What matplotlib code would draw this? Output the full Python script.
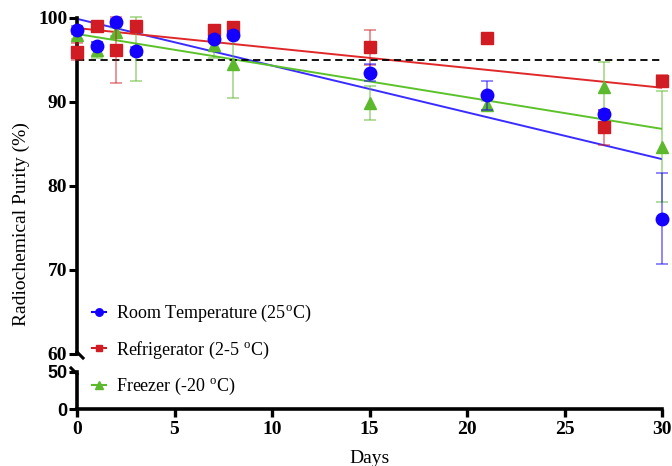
import numpy as np
import matplotlib
matplotlib.use("Agg")
import matplotlib.pyplot as plt
from matplotlib.lines import Line2D

# days sampled
days = [0, 1, 2, 3, 7, 8, 15, 21, 27, 30]

# mean radiochemical purity (%) and error bars
room = [98.6, 96.7, 99.5, 96.1, 97.5, 98.0, 93.5, 90.8, 88.6, 76.1]
room_err = [0.5, 0.4, 0.4, 0.4, 0.4, 0.4, 1.0, 1.7, 0.4, 5.4]
fridge = [96.0, 99.0, 96.2, 99.0, 98.6, 98.9, 96.5, 97.6, 87.0, 92.5]
fridge_err = [1.0, 0.3, 3.9, 0.3, 0.3, 0.3, 2.1, 0.0, 2.1, 0.7]
freezer = [98.0, 96.2, 98.3, 96.3, 96.8, 94.5, 89.9, 89.6, 91.8, 84.7]
freezer_err = [0.5, 1.0, 0.5, 3.8, 1.6, 4.0, 2.0, 0.5, 3.0, 6.6]

# end points of the fitted trend lines (value at day 0 and day 30)
room_fit = [99.9, 83.2]
fridge_fit = [98.8, 91.7]
freezer_fit = [98.1, 86.8]

labels = ["Room Temperature (25$^{\\mathregular{o}}$C)",
          "Refrigerator (2-5 $^{\\mathregular{o}}$C)",
          "Freezer (-20 $^{\\mathregular{o}}$C)"]
colors = ["#1400ff", "#d01c22", "#5cb82c"]
line_colors = ["#3a2cff", "#e0282a", "#5cc22a"]
markers = ["o", "s", "^"]
msizes = [9, 8, 9]
zorders = [5, 4, 3]

serif = "Liberation Serif"
plt.rcParams["font.family"] = serif
plt.rcParams["mathtext.fontset"] = "stix"

fig = plt.figure(figsize=(6.72, 4.66), dpi=100)
left, width = 77 / 672, 585 / 672
ax = fig.add_axes([left, 1 - 354 / 466, width, 336 / 466])
ax2 = fig.add_axes([left, 1 - 409 / 466, width, 37 / 466])

handles = []
series = [(room, room_err, room_fit), (fridge, fridge_err, fridge_fit),
          (freezer, freezer_err, freezer_fit)]
for i, (vals, err, fit) in enumerate(series):
    ax.plot([days[0], days[-1]], fit, color=line_colors[i], lw=1.4, zorder=2)
    eb = ax.errorbar(days, vals, yerr=err, fmt=markers[i], color=colors[i],
                     ms=msizes[i], ecolor=colors[i], elinewidth=1.2, capsize=4,
                     capthick=1.2, zorder=zorders[i], clip_on=False)
    for art in eb[1] + eb[2]:
        art.set_alpha(0.55)
    handles.append(Line2D([], [], color=colors[i], marker=markers[i],
                          ms=msizes[i] * 0.6, lw=1.5))

ax.axhline(95, color="black", lw=1.3, ls=(0, (4, 2.5)), zorder=2)

ax.set_xlim(0, 30)
ax.set_ylim(60, 100)
ax.set_yticks([60, 70, 80, 90, 100])
ax.set_xticks([])
ax2.set_xlim(0, 30)
ax2.set_ylim(0, 50)
ax2.set_yticks([0, 50])
ax2.set_xticks(range(0, 31, 5))

for a in (ax, ax2):
    for s in ("top", "right"):
        a.spines[s].set_visible(False)
    a.spines["left"].set_linewidth(2.6)
    a.tick_params(axis="y", width=2.2, length=6, direction="out", pad=1)
    a.patch.set_alpha(0)
ax.spines["bottom"].set_visible(False)
ax2.spines["bottom"].set_linewidth(2.6)
ax2.tick_params(axis="x", width=2.4, length=6, pad=3)

for t in ax.get_yticklabels():
    t.set_fontweight("bold")
    t.set_fontsize(14)
for t in ax2.get_yticklabels():
    t.set_fontweight("bold")
    t.set_fontsize(13)
    t.set_family("Liberation Sans")
for t in ax2.get_xticklabels():
    t.set_fontweight("bold")
    t.set_fontsize(14)

# small break marks on the y axis
kw = dict(color="black", lw=2.2, clip_on=False, transform=fig.transFigure)
x0 = left
fig.add_artist(Line2D([x0, x0 + 6 / 672], [1 - 352 / 466, 1 - 358 / 466], **kw))
fig.add_artist(Line2D([x0 - 6 / 672, x0], [1 - 368 / 466, 1 - 374 / 466], **kw))

ax2.set_xlabel("Days", fontsize=14, labelpad=8)
fig.text(21 / 672, 0.52, "Radiochemical Purity (%)", rotation=90,
         ha="center", va="center", fontsize=14)

fig.legend(handles, labels, loc="upper left",
           bbox_to_anchor=(92 / 672, 1 - 303 / 466), frameon=False,
           fontsize=13, handlelength=0.8, handletextpad=0.55, labelspacing=0.85,
           borderaxespad=0, borderpad=0)

fig.savefig("out.png", dpi=100)
